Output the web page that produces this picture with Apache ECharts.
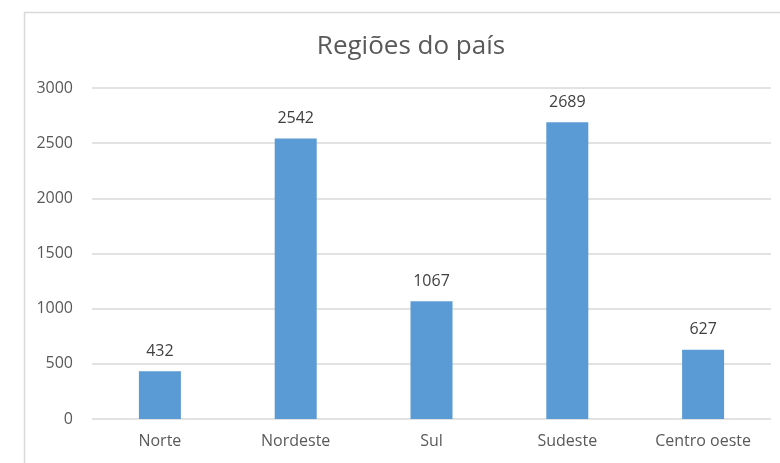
<!DOCTYPE html>
<html>
<head>
<meta charset="utf-8">
<script src="https://cdn.jsdelivr.net/npm/echarts@6/dist/echarts.min.js"></script>
<style>html,body{margin:0;padding:0;background:#fff}#c{width:780px;height:463px}</style>
</head>
<body>
<div id="c"></div>
<script>
const title = 'Regiões do país';
const categories = ['Norte', 'Nordeste', 'Sul', 'Sudeste', 'Centro oeste'];
const values = [432, 2542, 1067, 2689, 627];
const yTicks = [0, 500, 1000, 1500, 2000, 2500, 3000];

const chart = echarts.init(document.getElementById('c'), null, {renderer: 'canvas'});
const font = '"Open Sans", "Liberation Sans", sans-serif';
chart.setOption({
  animation: false,
  backgroundColor: '#fff',
  textStyle: {fontFamily: font},
  graphic: [{
    type: 'rect', left: 22, top: 10, silent: true,
    shape: {width: 800, height: 500},
    style: {fill: 'none', stroke: '#D9D9D9', lineWidth: 1.5}
  }],
  title: {
    text: title, left: 406, top: 29, textAlign: 'center',
    textStyle: {fontFamily: font, fontSize: 26, fontWeight: 'normal', color: '#595959'}
  },
  grid: {left: 92, right: 9, top: 88, bottom: 44, containLabel: false},
  xAxis: {
    type: 'category', data: categories,
    axisLine: {show: false}, axisTick: {show: false},
    axisLabel: {color: '#595959', fontSize: 16, margin: 14, fontFamily: font}
  },
  yAxis: {
    type: 'value', min: yTicks[0], max: yTicks[yTicks.length - 1], interval: 500,
    axisLine: {show: false}, axisTick: {show: false},
    axisLabel: {color: '#595959', fontSize: 16, margin: 19, fontFamily: font,
      formatter: function (v) { return String(v); }},
    splitLine: {lineStyle: {color: '#D9D9D9', width: 1.5}}
  },
  series: [{
    type: 'bar', data: values, barWidth: 42,
    itemStyle: {color: '#5B9BD5'},
    label: {show: true, position: 'top', distance: 12, color: '#404040', fontSize: 16, fontFamily: font}
  }]
});
</script>
</body>
</html>
